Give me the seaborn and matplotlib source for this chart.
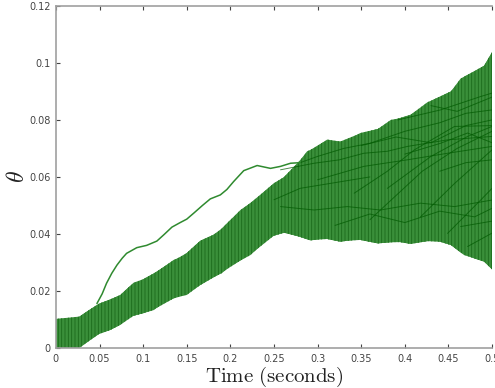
import numpy as np
import pandas as pd
import matplotlib
matplotlib.use("Agg")
import matplotlib.pyplot as plt
import seaborn as sns

# ---------------- data ----------------
band_t = [0.0, 0.024, 0.035, 0.049, 0.062, 0.074, 0.089, 0.100, 0.116, 0.135,
          0.146, 0.1655, 0.185, 0.2115, 0.2307, 0.2498, 0.262, 0.2766, 0.288,
          0.296, 0.311, 0.326, 0.334, 0.349, 0.369, 0.384, 0.395, 0.405, 0.426,
          0.441, 0.453, 0.464, 0.480, 0.491, 0.500]
band_upper = [0.0102, 0.0104, 0.0127, 0.0155, 0.0170, 0.0186, 0.0229, 0.0241,
              0.0268, 0.0309, 0.0322, 0.0376, 0.0403, 0.0484, 0.0525, 0.0578,
              0.0600, 0.0645, 0.0690, 0.0700, 0.0731, 0.0724, 0.0728, 0.0754,
              0.0768, 0.0800, 0.0806, 0.0814, 0.0862, 0.0882, 0.0900, 0.0945,
              0.0970, 0.0990, 0.1037]

low_t = [0.0, 0.027, 0.039, 0.0506, 0.062, 0.0736, 0.085, 0.100, 0.112, 0.123,
         0.139, 0.150, 0.1655, 0.180, 0.190, 0.200, 0.223, 0.246, 0.261, 0.280,
         0.292, 0.307, 0.326, 0.346, 0.369, 0.392, 0.407, 0.434, 0.453, 0.468,
         0.491, 0.500]
band_lower = [0.0, 0.0, 0.0028, 0.0052, 0.0063, 0.0081, 0.0110, 0.0122, 0.0133,
              0.0157, 0.0180, 0.0186, 0.0221, 0.0248, 0.0262, 0.0288, 0.0326,
              0.0390, 0.0405, 0.0390, 0.0377, 0.0385, 0.0373, 0.0381, 0.0367,
              0.0373, 0.0365, 0.0379, 0.0361, 0.0326, 0.0303, 0.0276]

outlier_t = [0.047, 0.053, 0.058, 0.064, 0.070, 0.076, 0.081, 0.0927, 0.104,
             0.1157, 0.124, 0.133, 0.1425, 0.150, 0.158, 0.168, 0.177, 0.1885,
             0.196, 0.2038, 0.2153, 0.2307, 0.246, 0.2575, 0.269, 0.280]
outlier_y = [0.0156, 0.0190, 0.0227, 0.0262, 0.0291, 0.0315, 0.0332, 0.0352,
             0.0360, 0.0375, 0.0398, 0.0424, 0.0440, 0.0452, 0.0473, 0.0500,
             0.0523, 0.0537, 0.0556, 0.0584, 0.0622, 0.0640, 0.0630, 0.0637,
             0.0648, 0.0650]

curve_1 = [[0.28, 0.30, 0.33, 0.36, 0.40, 0.44, 0.47, 0.50],
           [0.0650, 0.0672, 0.0700, 0.0718, 0.0760, 0.0790, 0.0823, 0.0835]]
curve_2 = [[0.2575, 0.296, 0.325, 0.353, 0.380, 0.403, 0.449, 0.50],
           [0.0625, 0.0648, 0.0660, 0.0683, 0.0690, 0.0707, 0.0730, 0.0742]]
curve_3 = [[0.2575, 0.296, 0.334, 0.372, 0.418, 0.457, 0.50],
           [0.0496, 0.0484, 0.0496, 0.0484, 0.0508, 0.0496, 0.0519]]
curve_4 = [[0.342, 0.38, 0.411, 0.457, 0.50],
           [0.0543, 0.0620, 0.0695, 0.0777, 0.0780]]
curve_5 = [[0.38, 0.43, 0.472, 0.50], [0.0560, 0.0672, 0.0742, 0.0777]]
curve_6 = [[0.418, 0.457, 0.50], [0.0460, 0.0577, 0.0695]]
curve_7 = [[0.449, 0.487, 0.50], [0.0402, 0.0519, 0.0560]]
curve_8 = [[0.30, 0.353, 0.403, 0.449, 0.50],
           [0.0590, 0.0637, 0.0660, 0.0683, 0.0707]]
curve_9 = [[0.392, 0.441, 0.487, 0.50], [0.0800, 0.0835, 0.0882, 0.0894]]
curve_10 = [[0.40, 0.441, 0.472, 0.50], [0.0680, 0.0718, 0.0754, 0.0720]]
curve_11 = [[0.464, 0.50], [0.0426, 0.0445]]
curve_12 = [[0.472, 0.50], [0.0356, 0.0403]]
curve_13 = [[0.32, 0.36, 0.40, 0.44, 0.48, 0.50],
            [0.0430, 0.0470, 0.0440, 0.0480, 0.0460, 0.0490]]
curve_14 = [[0.25, 0.28, 0.32, 0.36], [0.0520, 0.0560, 0.0580, 0.0600]]
curve_15 = [[0.36, 0.42, 0.46, 0.50], [0.0450, 0.0620, 0.0700, 0.0760]]
curve_16 = [[0.43, 0.46, 0.50], [0.0850, 0.0830, 0.0880]]
curve_17 = [[0.35, 0.39, 0.43, 0.47, 0.50],
            [0.0710, 0.0740, 0.0720, 0.0780, 0.0800]]
curve_18 = [[0.44, 0.47, 0.50], [0.0620, 0.0650, 0.0660]]

x_ticks = [0, 0.05, 0.1, 0.15, 0.2, 0.25, 0.3, 0.35, 0.4, 0.45, 0.5]
x_tick_labels = ['0', '0.05', '0.1', '0.15', '0.2', '0.25', '0.3', '0.35',
                 '0.4', '0.45', '0.5']
y_ticks = [0, 0.02, 0.04, 0.06, 0.08, 0.1, 0.12]
y_tick_labels = ['0', '0.02', '0.04', '0.06', '0.08', '0.1', '0.12']

# ---------------- style ----------------
sns.set_style("white")
plt.rcParams.update({
    'font.family': ['DejaVu Sans'],
    'mathtext.fontset': 'cm',
    'hatch.linewidth': 0.6,
    'xtick.direction': 'in',
    'ytick.direction': 'in',
})

fig = plt.figure(figsize=(4.95, 3.88), dpi=100)
ax = fig.add_axes([0.113, 0.103, 0.881, 0.882])

# band drawn as dense vertical strokes
ax.fill_between(band_t, band_upper,
                np.interp(band_t, low_t, band_lower),
                facecolor='#3a8f3a', edgecolor='#1b6b1b', hatch='|||||',
                linewidth=0, zorder=2)
ax.fill_between(low_t, np.interp(low_t, band_t, band_upper), band_lower,
                facecolor='#3a8f3a', edgecolor='#1b6b1b', hatch='|||||',
                linewidth=0, zorder=2)

# trajectories inside the band
curves = [curve_1, curve_2, curve_3, curve_4, curve_5, curve_6, curve_7,
          curve_8, curve_9, curve_10, curve_11, curve_12, curve_13, curve_14,
          curve_15, curve_16, curve_17, curve_18]
for c in curves:
    df = pd.DataFrame({'t': c[0], 'theta': c[1]})
    sns.lineplot(data=df, x='t', y='theta', ax=ax, color='#005a00',
                 linewidth=0.7, alpha=0.7, zorder=3)

out_df = pd.DataFrame({'t': outlier_t, 'theta': outlier_y})
sns.lineplot(data=out_df, x='t', y='theta', ax=ax, color='#2f8a2f',
             linewidth=1.1, zorder=4)

ax.set_xlim(0, 0.5)
ax.set_ylim(0, 0.12)
ax.set_xticks(x_ticks)
ax.set_xticklabels(x_tick_labels)
ax.set_yticks(y_ticks)
ax.set_yticklabels(y_tick_labels)
ax.tick_params(axis='both', labelsize=7, colors='#444444', length=3,
               width=0.8, pad=4)
ax.tick_params(axis='x', top=True, bottom=True)
ax.tick_params(axis='y', left=True)

for side in ['left', 'bottom', 'top']:
    ax.spines[side].set_color('#a0a0a0')
    ax.spines[side].set_linewidth(1.2)
ax.spines['right'].set_visible(False)

ax.set_xlabel(r'$\mathrm{Time\ (seconds)}$', fontsize=15, color='#222222',
              labelpad=1)
ax.set_ylabel(r'$\theta$', fontsize=17, color='#222222', labelpad=0)

fig.savefig('out.png', dpi=100)
